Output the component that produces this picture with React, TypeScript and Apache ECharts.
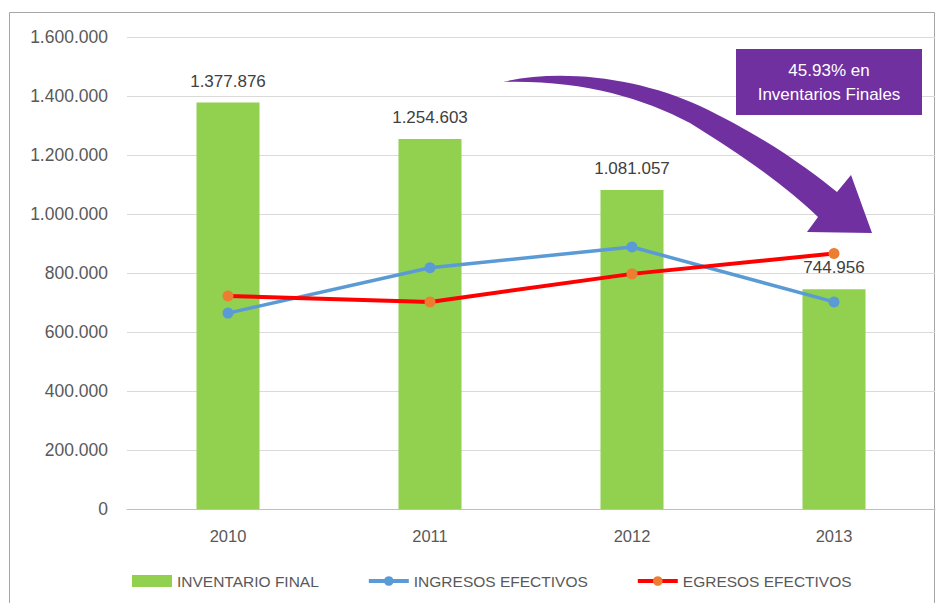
import React, { useEffect, useRef } from "react";
import * as echarts from "echarts";

const categories = ["2010", "2011", "2012", "2013"];
const inventarioFinal = [1377876, 1254603, 1081057, 744956];
const ingresosEfectivos = [664000, 818000, 888000, 702000];
const egresosEfectivos = [722000, 702000, 797000, 866000];
const seriesNames = ["INVENTARIO FINAL", "INGRESOS EFECTIVOS", "EGRESOS EFECTIVOS"];
const calloutLines = ["45.93% en", "Inventarios Finales"];

const ARROW_D =
  "M 503 82 C 560 68 640 78 700 106 C 765 137 810 170 837 192 L 851 175 L 872 233 L 807 232 L 818 217 C 790 190 750 160 690 123 C 640 97 580 80 503 82 Z";

let registered = false;
function ensureShape() {
  if (registered) return;
  echarts.graphic.registerShape("curvedArrow", echarts.graphic.extendPath(ARROW_D, {}));
  registered = true;
}

function fmt(v: number): string {
  return String(Math.round(v)).replace(/\B(?=(\d{3})+(?!\d))/g, ".");
}

const FONT = "'Liberation Sans', Arial, sans-serif";

export default function App() {
  const ref = useRef<HTMLDivElement>(null);
  useEffect(() => {
    if (!ref.current) return;
    ensureShape();
    const chart = echarts.init(ref.current, undefined, { renderer: "svg" });
    chart.setOption({
      animation: false,
      backgroundColor: "#ffffff",
      textStyle: { fontFamily: FONT },
      grid: { left: 127, right: 6, top: 37, bottom: 94, containLabel: false },
      legend: {
        left: 127,
        top: 568,
        itemGap: 48,
        itemWidth: 40,
        itemHeight: 12,
        textStyle: { color: "#595959", fontSize: 15.5, fontFamily: FONT },
        data: [
          { name: seriesNames[0], icon: "rect" },
          { name: seriesNames[1], lineStyle: { width: 4 } },
          { name: seriesNames[2], lineStyle: { width: 4 } },
        ],
      },
      xAxis: {
        type: "category",
        data: categories,
        axisLine: { show: true, lineStyle: { color: "#BFBFBF", width: 1 } },
        axisTick: { show: false },
        axisLabel: { color: "#595959", fontSize: 16.5, margin: 18, fontFamily: FONT },
      },
      yAxis: {
        type: "value",
        min: 0,
        max: 1600000,
        interval: 200000,
        axisLine: { show: false },
        axisTick: { show: false },
        splitLine: { lineStyle: { color: "#D9D9D9", width: 1 } },
        axisLabel: {
          color: "#595959",
          fontSize: 17.5,
          margin: 19,
          fontFamily: FONT,
          formatter: (v: number) => fmt(v),
        },
      },
      series: [
        {
          name: seriesNames[0],
          type: "bar",
          data: inventarioFinal,
          barWidth: 63,
          itemStyle: { color: "#92D050" },
          label: {
            show: true,
            position: "top",
            distance: 13,
            color: "#404040",
            fontSize: 17,
            fontFamily: FONT,
            formatter: (p: any) => fmt(p.value),
          },
          z: 1,
        },
        {
          name: seriesNames[1],
          type: "line",
          data: ingresosEfectivos,
          symbol: "circle",
          symbolSize: 11,
          lineStyle: { color: "#5B9BD5", width: 3.5 },
          itemStyle: { color: "#5B9BD5" },
          z: 3,
        },
        {
          name: seriesNames[2],
          type: "line",
          data: egresosEfectivos,
          symbol: "circle",
          symbolSize: 11,
          lineStyle: { color: "#FF0000", width: 4 },
          itemStyle: { color: "#ED7D31" },
          z: 4,
        },
      ],
      graphic: [
        {
          type: "rect",
          z: -10,
          silent: true,
          shape: { x: 9.5, y: 12.5, width: 925, height: 600 },
          style: { fill: "none", stroke: "#A6A6A6", lineWidth: 1 },
        },
        {
          type: "curvedArrow",
          x: 0,
          y: 0,
          z: 100,
          silent: true,
          style: { fill: "#7030A0" },
        },
        {
          type: "rect",
          z: 100,
          silent: true,
          shape: { x: 736, y: 49, width: 186, height: 66 },
          style: { fill: "#7030A0" },
        },
        {
          type: "text",
          z: 101,
          silent: true,
          x: 829,
          y: 82,
          style: {
            text: calloutLines.join("\n"),
            fill: "#ffffff",
            fontSize: 17,
            fontFamily: FONT,
            lineHeight: 24,
            align: "center",
            verticalAlign: "middle",
          },
        },
      ],
    });
    return () => chart.dispose();
  }, []);
  return (
    <div
      ref={ref}
      style={{ position: "absolute", left: 0, top: 0, width: 941, height: 603 }}
    />
  );
}
